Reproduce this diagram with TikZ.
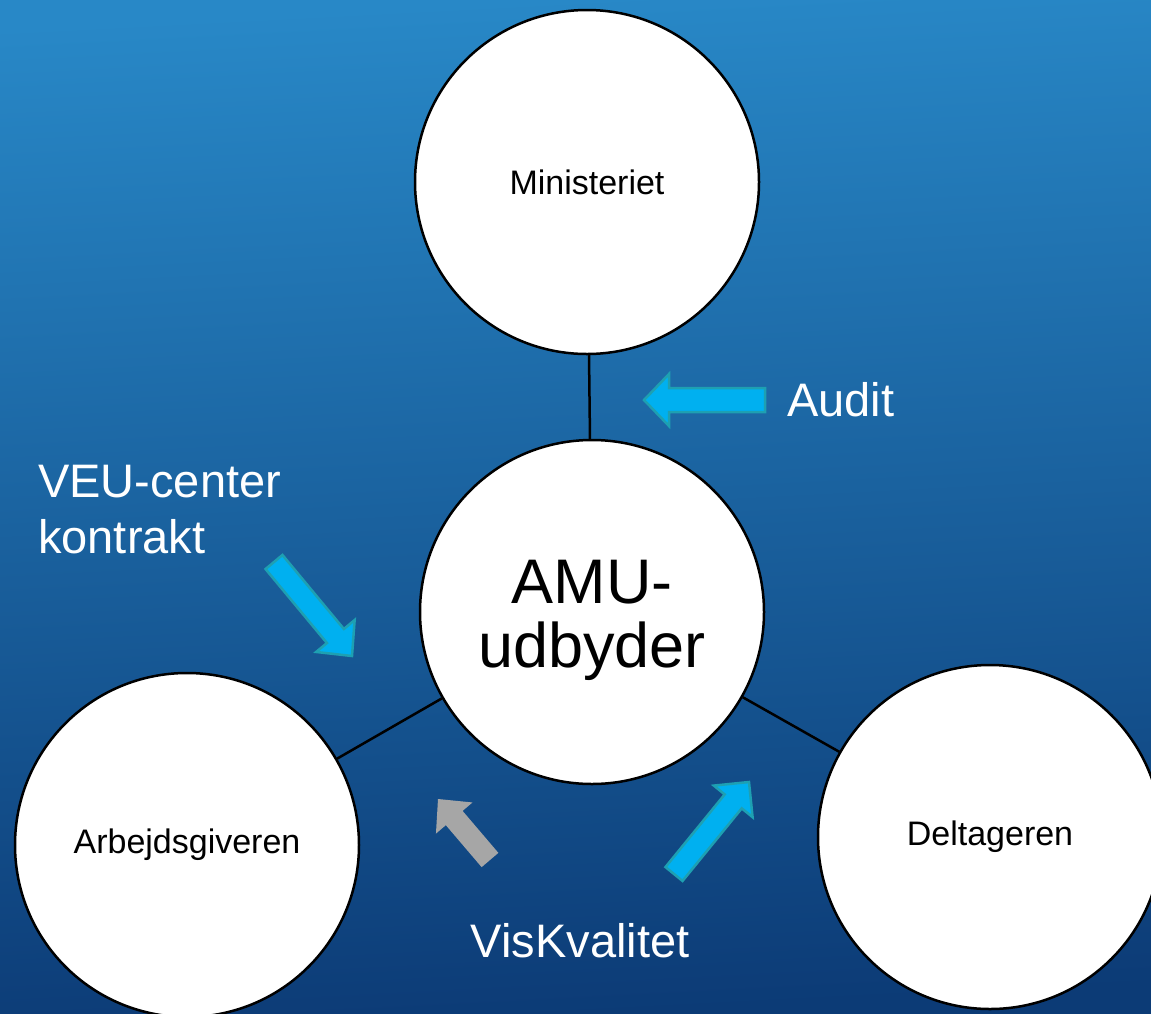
\documentclass[tikz,border=0pt]{standalone}
\usepackage{fontspec}
\setmainfont{Liberation Sans}
\usetikzlibrary{calc}
\definecolor{bgtop}{HTML}{2888C7}
\definecolor{bgbot}{HTML}{0C3B76}
\definecolor{arrfill}{HTML}{00B0F0}
\definecolor{arredge}{HTML}{1EA0B2}
\definecolor{greyarr}{HTML}{A6A6A6}
\newcommand{\blockarr}[6]{%
  \coordinate (neck) at ($(#3)!#6pt!(#2)$);
  \draw[#1] ($(#2)!#4pt!90:(#3)$) -- ($(neck)!#4pt!90:(#3)$) -- ($(neck)!#5pt!90:(#3)$) -- (#3)
    -- ($(neck)!#5pt!-90:(#3)$) -- ($(neck)!#4pt!-90:(#3)$) -- ($(#2)!#4pt!-90:(#3)$) -- cycle;}
\tikzset{
  bubble/.style={circle, draw=black, fill=white, line width=2.5pt, minimum size=344pt, inner sep=0pt},
  link/.style={draw=black, line width=2.5pt},
  bluearr/.style={fill=arrfill, draw=arredge, line width=2.5pt, line join=miter},
  greyarrow/.style={fill=greyarr, draw=none},
  smalltxt/.style={text=black, font=\fontsize{34}{40}\selectfont},
  bigtxt/.style={text=white, font=\fontsize{47}{56}\selectfont},
}
\begin{document}
\begin{tikzpicture}[x=1pt, y=-1pt]
\useasboundingbox (0,0) rectangle (1151,1013);
\shade[top color=bgtop, bottom color=bgbot, shading angle=3] (0,0) rectangle (1151,1013);

\node[bubble] (min) at (587,182) {};
\node[bubble] (amu) at (592,612) {};
\node[bubble] (arb) at (187,845) {};
\node[bubble] (del) at (990,837) {};

\draw[link] (min) -- (amu);
\draw[link] (amu) -- (arb);
\draw[link] (amu) -- (del);

\node[smalltxt] (mintxt) at (min.center) {Ministeriet};
\node[smalltxt] (arbtxt) at (arb.center) {Arbejdsgiveren};
\node[smalltxt] (deltxt) at (del.center) {Deltageren};
\node[text=black, font=\fontsize{63}{64}\selectfont, anchor=base] (amu1) at (592,603) {AMU-};
\node[text=black, font=\fontsize{63}{64}\selectfont, anchor=base] (amu2) at (592,667) {udbyder};

\node[bigtxt, anchor=base west, inner sep=0pt] (audit) at (787,416) {Audit};
\node[bigtxt, anchor=base west, inner sep=0pt] (veu1) at (38,497) {VEU-center};
\node[bigtxt, anchor=base west, inner sep=0pt] (veu2) at (38,553) {kontrakt};
\node[bigtxt, anchor=base, inner sep=0pt] (vis) at (580,957) {VisKvalitet};

\coordinate (a1t) at (765,400); \coordinate (a1h) at (644,400);
\coordinate (a2t) at (274,562); \coordinate (a2h) at (352,656);
\coordinate (a3t) at (490,860); \coordinate (a3h) at (438,799);
\coordinate (a4t) at (674,874); \coordinate (a4h) at (749,782);

\blockarr{bluearr}{a1t}{a1h}{12}{26}{25}
\blockarr{bluearr}{a2t}{a2h}{11}{25}{26}
\blockarr{greyarrow}{a3t}{a3h}{11}{24}{25}
\blockarr{bluearr}{a4t}{a4h}{11}{25}{25}
\end{tikzpicture}
\end{document}
